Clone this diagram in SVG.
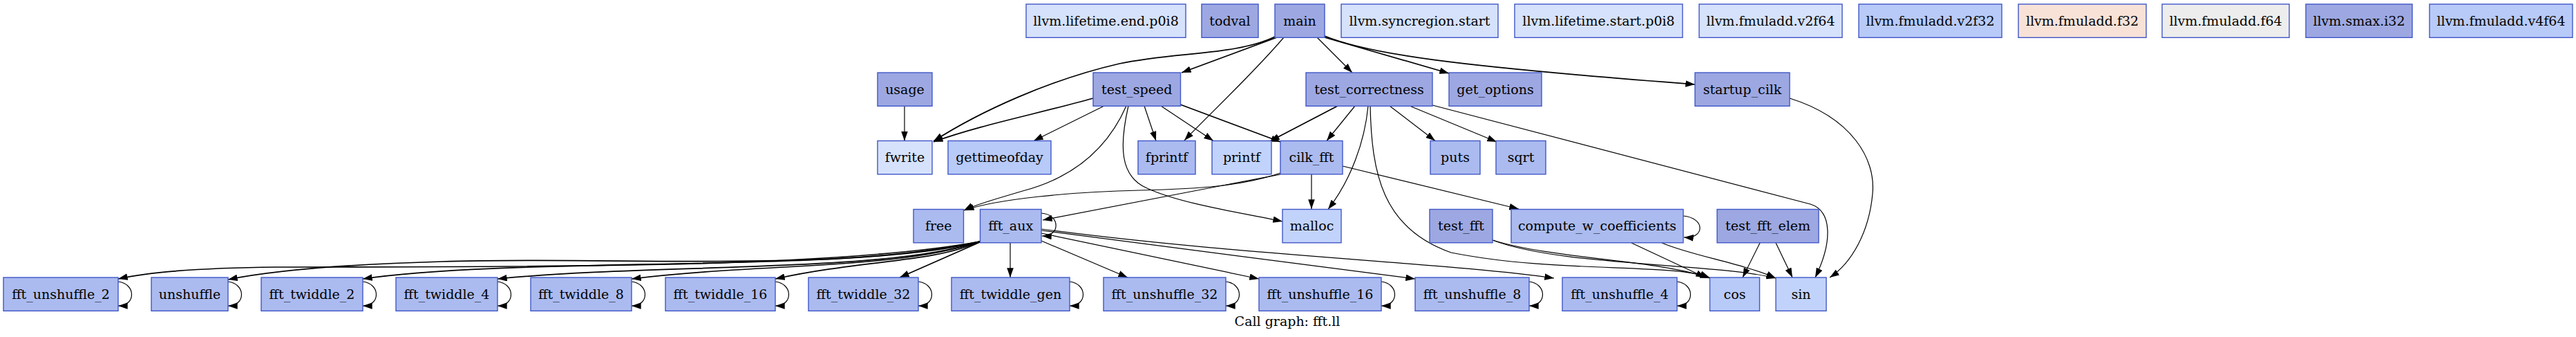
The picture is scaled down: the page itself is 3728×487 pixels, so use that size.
<svg xmlns="http://www.w3.org/2000/svg" width="3728" height="487" viewBox="0 0 3728 487">
<style>
.n rect{stroke:#4157c8;stroke-width:1.4}
.n text{font-family:"DejaVu Serif",serif;font-size:19px;text-anchor:middle;fill:#000}
.c1{fill:#9da8e2}.c2{fill:#abbbf0}.c3{fill:#b8caf8}.c4{fill:#c2d3fb}.c5{fill:#d6e2fc}.c6{fill:#f8e2d8}.c7{fill:#ededed}
.e path{fill:none;stroke:#000;stroke-width:1.2}
.e .t{stroke-width:1.7}
.title{font-family:"DejaVu Serif",serif;font-size:19px;text-anchor:middle}
</style>
<defs>
<marker id="a" viewBox="0 0 10 7" refX="10" refY="3.5" markerWidth="13.7" markerHeight="9.6" markerUnits="userSpaceOnUse" orient="auto"><path d="M0,0L10,3.5L0,7z" fill="#000"/></marker>
</defs>
<rect width="3728" height="487" fill="#fff"/>
<g class="e">
<path class="t" d="M1845,53 C1790,80 1700,75 1620,92 C1520,115 1420,160 1351,204" marker-end="url(#a)"/>
<path class="t" d="M1848,54 L1710,105" marker-end="url(#a)"/>
<path d="M1858,54 C1810,110 1745,170 1714,203" marker-end="url(#a)"/>
<path d="M1906,54 L1957,105" marker-end="url(#a)"/>
<path class="t" d="M1917,54 L2097,106" marker-end="url(#a)"/>
<path class="t" d="M1917,52 C1980,78 2100,95 2453,122" marker-end="url(#a)"/>
<path d="M1309,153 L1309,203.5" marker-end="url(#a)"/>
<path class="t" d="M1582,142 C1500,165 1420,180 1351,205" marker-end="url(#a)"/>
<path d="M1598,153 L1496,203.5" marker-end="url(#a)"/>
<path d="M1656,153 L1673,203.5" marker-end="url(#a)"/>
<path d="M1680,153 L1756,203.5" marker-end="url(#a)"/>
<path class="t" d="M1708,151 L1853,205" marker-end="url(#a)"/>
<path d="M1630,153 C1605,210 1560,255 1480,276 C1440,288 1410,296 1395,304" marker-end="url(#a)"/>
<path d="M1633,153 C1620,210 1620,255 1660,272 C1710,295 1800,308 1856,320" marker-end="url(#a)"/>
<path class="t" d="M1936,153 L1838,204" marker-end="url(#a)"/>
<path d="M1961,153 L1920,203.5" marker-end="url(#a)"/>
<path d="M1980,153 C1975,205 1955,260 1922,302.5" marker-end="url(#a)"/>
<path d="M1983,153 C1985,250 2000,330 2100,365 C2250,395 2420,380 2474,401" marker-end="url(#a)"/>
<path d="M2011,153 L2077,203.5" marker-end="url(#a)"/>
<path d="M2040,153 L2166,205" marker-end="url(#a)"/>
<path d="M2073,152 L2620,295 C2652,305 2652,350 2627,401" marker-end="url(#a)"/>
<path d="M2590,142 C2680,170 2715,230 2710,280 C2705,335 2680,380 2648,401" marker-end="url(#a)"/>
<path d="M1853,250 C1800,268 1740,273 1650,275 C1550,277 1440,288 1396,304" marker-end="url(#a)"/>
<path d="M1853,252 L1509,318" marker-end="url(#a)"/>
<path d="M1898,252 L1898,302" marker-end="url(#a)"/>
<path d="M1943,240 L2198,302" marker-end="url(#a)"/>
<path d="M2436,312 C2468,315 2468,345 2437,343" marker-end="url(#a)"/>
<path d="M2361,351 L2468,401" marker-end="url(#a)"/>
<path d="M2405,351 C2450,370 2520,380 2570,402" marker-end="url(#a)"/>
<path d="M2160,347 C2250,375 2400,375 2474,402" marker-end="url(#a)"/>
<path d="M2160,347 C2260,385 2480,380 2570,402" marker-end="url(#a)"/>
<path d="M2547,351 L2522,401" marker-end="url(#a)"/>
<path d="M2570,351 L2594,401" marker-end="url(#a)"/>
<path d="M1507,308 C1535,310 1535,342 1508,341" marker-end="url(#a)"/>
<path d="M1462,351 L1462,401" marker-end="url(#a)"/>
<path d="M1507,348 L1632,401" marker-end="url(#a)"/>
<path d="M1507,337 L1822,403" marker-end="url(#a)"/>
<path d="M1507,333 L2048,403" marker-end="url(#a)"/>
<path d="M1507,331 C1800,370 2100,380 2249,402" marker-end="url(#a)"/>
<path class="t" d="M1418,350 L1302,401" marker-end="url(#a)"/>
<path class="t" d="M1418,349 C1350,380 1250,375 1122,403" marker-end="url(#a)"/>
<path class="t" d="M1418,349 C1300,390 1100,380 914,403" marker-end="url(#a)"/>
<path class="t" d="M1418,349 C1280,395 950,380 720,403" marker-end="url(#a)"/>
<path class="t" d="M1418,349 C1250,395 750,370 525,403" marker-end="url(#a)"/>
<path class="t" d="M1418,349 C1200,395 900,370 640,378 C500,382 400,390 330,404" marker-end="url(#a)"/>
<path class="t" d="M1418,349 C1200,390 700,385 400,386 C300,387 220,392 171,403" marker-end="url(#a)"/>
<path d="M171,407 C197,410 197,442 171,442" marker-end="url(#a)"/>
<path d="M330,407 C356,410 356,442 330,442" marker-end="url(#a)"/>
<path d="M525,407 C551,410 551,442 525,442" marker-end="url(#a)"/>
<path d="M720,407 C746,410 746,442 720,442" marker-end="url(#a)"/>
<path d="M914,407 C940,410 940,442 914,442" marker-end="url(#a)"/>
<path d="M1122,407 C1148,410 1148,442 1122,442" marker-end="url(#a)"/>
<path d="M1329,407 C1355,410 1355,442 1329,442" marker-end="url(#a)"/>
<path d="M1548,407 C1574,410 1574,442 1548,442" marker-end="url(#a)"/>
<path d="M1774,407 C1800,410 1800,442 1774,442" marker-end="url(#a)"/>
<path d="M1999,407 C2025,410 2025,442 1999,442" marker-end="url(#a)"/>
<path d="M2213,407 C2239,410 2239,442 2213,442" marker-end="url(#a)"/>
<path d="M2427,407 C2453,410 2453,442 2427,442" marker-end="url(#a)"/>
</g>
<g class="n" id="llvm_lifetime_end"><rect class="c5" x="1485" y="6" width="231" height="48.3"/><text x="1600.5" y="36.7">llvm.lifetime.end.p0i8</text></g>
<g class="n" id="todval"><rect class="c1" x="1739" y="6" width="82" height="48.3"/><text x="1780" y="36.7">todval</text></g>
<g class="n" id="main"><rect class="c1" x="1845" y="6" width="72" height="48.3"/><text x="1881" y="36.7">main</text></g>
<g class="n" id="llvm_syncregion_start"><rect class="c5" x="1941" y="6" width="227" height="48.3"/><text x="2054.5" y="36.7">llvm.syncregion.start</text></g>
<g class="n" id="llvm_lifetime_start"><rect class="c5" x="2192" y="6" width="243" height="48.3"/><text x="2313.5" y="36.7">llvm.lifetime.start.p0i8</text></g>
<g class="n" id="llvm_fmuladd_v2f64"><rect class="c5" x="2459" y="6" width="207" height="48.3"/><text x="2562.5" y="36.7">llvm.fmuladd.v2f64</text></g>
<g class="n" id="llvm_fmuladd_v2f32"><rect class="c3" x="2690" y="6" width="207" height="48.3"/><text x="2793.5" y="36.7">llvm.fmuladd.v2f32</text></g>
<g class="n" id="llvm_fmuladd_f32"><rect class="c6" x="2921" y="6" width="185" height="48.3"/><text x="3013.5" y="36.7">llvm.fmuladd.f32</text></g>
<g class="n" id="llvm_fmuladd_f64"><rect class="c7" x="3129" y="6" width="184" height="48.3"/><text x="3221" y="36.7">llvm.fmuladd.f64</text></g>
<g class="n" id="llvm_smax_i32"><rect class="c1" x="3337" y="6" width="154" height="48.3"/><text x="3414" y="36.7">llvm.smax.i32</text></g>
<g class="n" id="llvm_fmuladd_v4f64"><rect class="c3" x="3516" y="6" width="207" height="48.3"/><text x="3619.5" y="36.7">llvm.fmuladd.v4f64</text></g>
<g class="n" id="usage"><rect class="c1" x="1270" y="105" width="79" height="48.3"/><text x="1309.5" y="135.7">usage</text></g>
<g class="n" id="test_speed"><rect class="c1" x="1582" y="105" width="126.5" height="48.3"/><text x="1645.2" y="135.7">test_speed</text></g>
<g class="n" id="test_correctness"><rect class="c1" x="1890" y="105" width="183" height="48.3"/><text x="1981.5" y="135.7">test_correctness</text></g>
<g class="n" id="get_options"><rect class="c1" x="2097" y="105" width="134" height="48.3"/><text x="2164" y="135.7">get_options</text></g>
<g class="n" id="startup_cilk"><rect class="c1" x="2453" y="105" width="137" height="48.3"/><text x="2521.5" y="135.7">startup_cilk</text></g>
<g class="n" id="fwrite"><rect class="c5" x="1270" y="203.5" width="79" height="48.3"/><text x="1309.5" y="234.2">fwrite</text></g>
<g class="n" id="gettimeofday"><rect class="c3" x="1372" y="203.5" width="149" height="48.3"/><text x="1446.5" y="234.2">gettimeofday</text></g>
<g class="n" id="fprintf"><rect class="c2" x="1647" y="203.5" width="83" height="48.3"/><text x="1688.5" y="234.2">fprintf</text></g>
<g class="n" id="printf"><rect class="c4" x="1754" y="203.5" width="86" height="48.3"/><text x="1797" y="234.2">printf</text></g>
<g class="n" id="cilk_fft"><rect class="c2" x="1853" y="203.5" width="90" height="48.3"/><text x="1898" y="234.2">cilk_fft</text></g>
<g class="n" id="puts"><rect class="c2" x="2070" y="203.5" width="72" height="48.3"/><text x="2106" y="234.2">puts</text></g>
<g class="n" id="sqrt"><rect class="c2" x="2165" y="203.5" width="72" height="48.3"/><text x="2201" y="234.2">sqrt</text></g>
<g class="n" id="free"><rect class="c2" x="1322" y="302.5" width="72.5" height="48.3"/><text x="1358.2" y="333.2">free</text></g>
<g class="n" id="fft_aux"><rect class="c2" x="1418.5" y="302.5" width="88.5" height="48.3"/><text x="1462.7" y="333.2">fft_aux</text></g>
<g class="n" id="malloc"><rect class="c4" x="1856" y="302.5" width="85" height="48.3"/><text x="1898.5" y="333.2">malloc</text></g>
<g class="n" id="test_fft"><rect class="c1" x="2069" y="302.5" width="91" height="48.3"/><text x="2114.5" y="333.2">test_fft</text></g>
<g class="n" id="compute_w_coefficients"><rect class="c2" x="2187" y="302.5" width="249" height="48.3"/><text x="2311.5" y="333.2">compute_w_coefficients</text></g>
<g class="n" id="test_fft_elem"><rect class="c1" x="2485" y="302.5" width="147" height="48.3"/><text x="2558.5" y="333.2">test_fft_elem</text></g>
<g class="n" id="fft_unshuffle_2"><rect class="c2" x="5" y="401" width="166" height="48.3"/><text x="88" y="431.7">fft_unshuffle_2</text></g>
<g class="n" id="unshuffle"><rect class="c2" x="219" y="401" width="111" height="48.3"/><text x="274.5" y="431.7">unshuffle</text></g>
<g class="n" id="fft_twiddle_2"><rect class="c2" x="378" y="401" width="147" height="48.3"/><text x="451.5" y="431.7">fft_twiddle_2</text></g>
<g class="n" id="fft_twiddle_4"><rect class="c2" x="573" y="401" width="147" height="48.3"/><text x="646.5" y="431.7">fft_twiddle_4</text></g>
<g class="n" id="fft_twiddle_8"><rect class="c2" x="768" y="401" width="146" height="48.3"/><text x="841" y="431.7">fft_twiddle_8</text></g>
<g class="n" id="fft_twiddle_16"><rect class="c2" x="963" y="401" width="159" height="48.3"/><text x="1042.5" y="431.7">fft_twiddle_16</text></g>
<g class="n" id="fft_twiddle_32"><rect class="c2" x="1170" y="401" width="159" height="48.3"/><text x="1249.5" y="431.7">fft_twiddle_32</text></g>
<g class="n" id="fft_twiddle_gen"><rect class="c2" x="1377" y="401" width="171" height="48.3"/><text x="1462.5" y="431.7">fft_twiddle_gen</text></g>
<g class="n" id="fft_unshuffle_32"><rect class="c2" x="1597" y="401" width="177" height="48.3"/><text x="1685.5" y="431.7">fft_unshuffle_32</text></g>
<g class="n" id="fft_unshuffle_16"><rect class="c2" x="1822" y="401" width="177" height="48.3"/><text x="1910.5" y="431.7">fft_unshuffle_16</text></g>
<g class="n" id="fft_unshuffle_8"><rect class="c2" x="2048" y="401" width="165" height="48.3"/><text x="2130.5" y="431.7">fft_unshuffle_8</text></g>
<g class="n" id="fft_unshuffle_4"><rect class="c2" x="2261" y="401" width="166" height="48.3"/><text x="2344" y="431.7">fft_unshuffle_4</text></g>
<g class="n" id="cos"><rect class="c3" x="2474.5" y="401" width="72" height="48.3"/><text x="2510.5" y="431.7">cos</text></g>
<g class="n" id="sin"><rect class="c4" x="2570" y="401" width="73" height="48.3"/><text x="2606.5" y="431.7">sin</text></g>
<text class="title" x="1863" y="471">Call graph: fft.ll</text>
</svg>
